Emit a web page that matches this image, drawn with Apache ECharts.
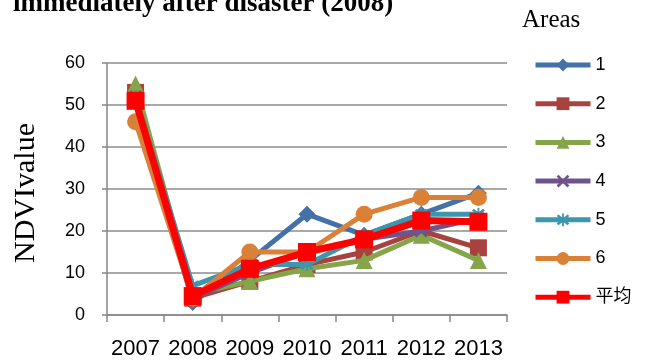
<!DOCTYPE html>
<html>
<head>
<meta charset="utf-8">
<script src="https://cdn.jsdelivr.net/npm/echarts@6/dist/echarts.min.js"></script>
<style>html,body{margin:0;padding:0;background:#fff;}#c{width:646px;height:360px;}</style>
</head>
<body>
<div id="c"></div>
<script>
const years = ['2007','2008','2009','2010','2011','2012','2013'];
const seriesNames = ['1','2','3','4','5','6','平均'];
const area1 = [52, 3, 13, 24, 19, 24, 29];
const area2 = [53, 4, 8, 12, 15, 20, 16];
const area3 = [55, 5, 8, 11, 13, 19, 13];
const area4 = [52, 4, 10, 15, 18, 20, 23];
const area5 = [52, 7, 12, 12, 19, 24, 24];
const area6 = [46, 4, 15, 15, 24, 28, 28];
const average = [51, 4.5, 11, 15, 18, 22.5, 22.2];
const yTicks = [0, 10, 20, 30, 40, 50, 60];

const colors = ['#4472A8', '#A8423F', '#86A44A', '#6E548D', '#3D96AE', '#DA8137', '#FF0000'];
const xPath = 'path://M0,1.5 L1.5,0 L5,3.5 L8.5,0 L10,1.5 L6.5,5 L10,8.5 L8.5,10 L5,6.5 L1.5,10 L0,8.5 L3.5,5 Z';
const starPath = 'path://M0,1.5 L1.5,0 L5,3.5 L8.5,0 L10,1.5 L6.5,5 L10,8.5 L8.5,10 L5,6.5 L1.5,10 L0,8.5 L3.5,5 Z M4.3,-1 L5.7,-1 L5.7,11 L4.3,11 Z';
const symbols = ['diamond', 'rect', 'triangle', xPath, starPath, 'circle', 'rect'];
const dataList = [area1, area2, area3, area4, area5, area6, average];

const chart = echarts.init(document.getElementById('c'), null, {renderer: 'canvas'});
const series = dataList.map((d, i) => ({
  name: seriesNames[i],
  type: 'line',
  data: d,
  symbol: symbols[i],
  symbolSize: i === 6 ? 18 : (i === 3 || i === 4 ? 13 : 17),
  lineStyle: {color: colors[i], width: i === 6 ? 7 : 5},
  itemStyle: {color: colors[i]},
  z: 2 + i,
  animation: false
}));

chart.setOption({
  animation: false,
  grid: {left: 107, right: 139, top: 63, bottom: 43, containLabel: false},
  xAxis: {
    type: 'category',
    data: years,
    boundaryGap: true,
    axisLine: {lineStyle: {color: '#868686', width: 1.5}},
    axisTick: {show: true, length: 7, lineStyle: {color: '#868686', width: 1.5}},
    axisLabel: {fontSize: 22, color: '#000', margin: 23, fontFamily: 'Liberation Sans', interval: 0}
  },
  yAxis: {
    type: 'value',
    min: 0, max: 60, interval: 10,
    axisLine: {show: true, lineStyle: {color: '#868686', width: 1.5}},
    axisTick: {show: true, length: 5, lineStyle: {color: '#868686', width: 1.5}},
    axisLabel: {fontSize: 18, color: '#000', margin: 22, fontFamily: 'Liberation Sans',
      formatter: v => yTicks.includes(v) ? String(v) : ''},
    splitLine: {show: true, lineStyle: {color: '#8C8C8C', width: 1.5}}
  },
  legend: {
    orient: 'vertical',
    left: 533, top: 56, padding: 0,
    itemWidth: 55, itemHeight: 16, itemGap: 20.7,
    data: seriesNames,
    lineStyle: {width: 5},
    textStyle: {fontSize: 18, color: '#000', fontFamily: 'Liberation Sans, Noto Sans CJK SC'}
  },
  graphic: [
    {type: 'text', x: 13, y: 4, style: {text: 'immediately after disaster (2008)', font: 'bold 27px "Liberation Serif"', fill: '#000', verticalAlign: 'middle', align: 'left'}},
    {type: 'text', x: 522, y: 20, style: {text: 'Areas', font: '25px "Liberation Serif"', fill: '#000', verticalAlign: 'middle', align: 'left'}},
    {type: 'text', x: 26, y: 193, rotation: Math.PI / 2, style: {text: 'NDVIvalue', font: '30px "Liberation Serif"', fill: '#000', verticalAlign: 'middle', align: 'center'}}
  ],
  series: series
});
</script>
</body>
</html>
